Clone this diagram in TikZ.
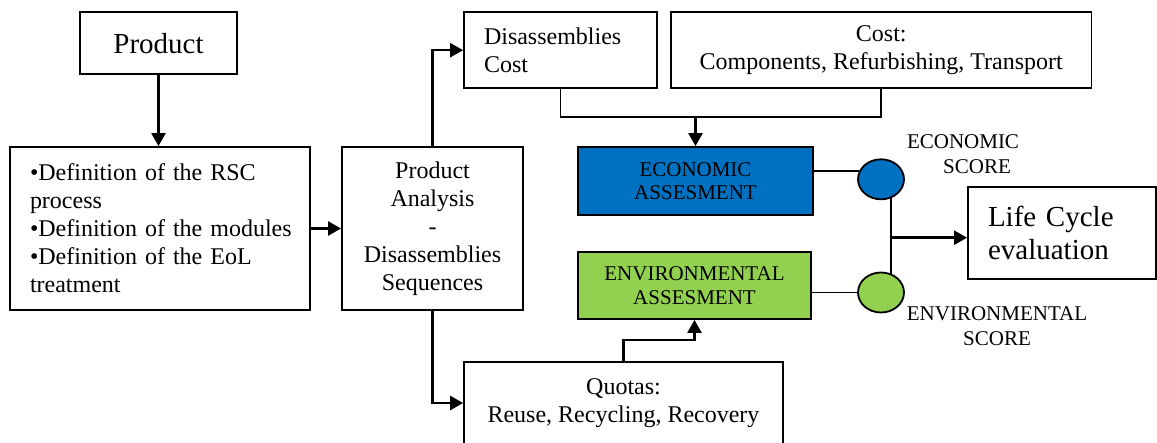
\documentclass[tikz,border=0pt]{standalone}
\usepackage{fontspec}
\setmainfont{Liberation Serif}
\usetikzlibrary{arrows.meta,shapes.geometric}
\definecolor{econblue}{HTML}{0070C0}
\definecolor{envgreen}{HTML}{92D050}
\tikzset{
  box/.style={draw,line width=1.8pt,rectangle,inner sep=0pt,align=center,
    font={\fontsize{24pt}{28pt}\selectfont}},
  leftbox/.style={box,align=left,inner xsep=20pt},
  assess/.style={box,font={\fontsize{21pt}{23.5pt}\selectfont}},
  score/.style={ellipse,draw,line width=1.8pt,minimum width=46pt,minimum height=40pt,inner sep=0pt},
  lbl/.style={align=center,inner sep=0pt,font={\fontsize{21pt}{25pt}\selectfont}},
  arr/.style={line width=2.4pt,-{Triangle[length=13pt,width=14pt]}},
  conn/.style={line width=1.9pt}
}
\begin{document}
\begin{tikzpicture}[x=1pt,y=-1pt]
\useasboundingbox (0,0) rectangle (1157,443);
\node[box,minimum width=157pt,minimum height=61.7pt,font={\fontsize{29pt}{33pt}\selectfont}] (prod) at (158.5,43.2) {Product};
\node[leftbox,text width=260pt,minimum height=163pt] (def) at (160,228.5)
  {\mbox{•Definition of the RSC}\\process\\\mbox{•Definition of the modules}\\\mbox{•Definition of the EoL}\\treatment};
\node[box,minimum width=181pt,minimum height=163pt] (pa) at (432.5,228.5)
  {Product\\Analysis\\-\\Disassemblies\\Sequences};
\node[leftbox,text width=153pt,minimum height=75.7pt] (dis) at (560.5,50.2) {Disassemblies\\Cost};
\node[box,minimum width=420.5pt,minimum height=75.7pt] (cost) at (881.25,50.2)
  {Cost:\\Components, Refurbishing, Transport};
\node[assess,fill=econblue,minimum width=235pt,minimum height=68pt] (econ) at (695.5,181)
  {ECONOMIC\\ASSESMENT};
\node[assess,fill=envgreen,minimum width=233pt,minimum height=67pt] (env) at (694.5,285.5)
  {ENVIRONMENTAL\\ASSESMENT};
\node[score,fill=econblue] (econc) at (881,179.3) {};
\node[score,fill=envgreen] (envc) at (881,292.5) {};
\node[leftbox,text width=148pt,minimum height=92pt,font={\fontsize{29pt}{33pt}\selectfont}] (lc) at (1062,233)
  {Life Cycle\\evaluation};
\node[box,minimum width=319pt,minimum height=82.6pt] (quotas) at (623.5,403)
  {Quotas:\\Reuse, Recycling, Recovery};
\node[lbl] (econl) at (963,154.5) {ECONOMIC\\\hspace*{28pt}SCORE};
\node[lbl] (envl) at (997,326.5) {ENVIRONMENTAL\\SCORE};
\coordinate (cj) at (695.5,117);
\coordinate (jj) at (891,237.7);
% connectors
\draw[arr] (prod.south) -- (prod.south |- def.north);
\draw[arr] (def.east) -- (pa.west);
\draw[arr] (pa.north) |- (dis.west);
\draw[arr] (pa.south) |- (quotas.west);
\draw[conn] (dis.south) |- (cj) -| (cost.south);
\draw[arr] (cj) -- (econ.north);
\draw[arr] (quotas.north) -- ++(0,-21) -| (env.south);
\draw[conn] (econc.160) -- (econc.160 -| econ.east);
\draw[conn] (envc.west) -- (envc.west -| env.east);
\draw[conn] (econc.-61) -- (envc.61);
\draw[arr] (jj) -- (jj -| lc.west);
\end{tikzpicture}
\end{document}
